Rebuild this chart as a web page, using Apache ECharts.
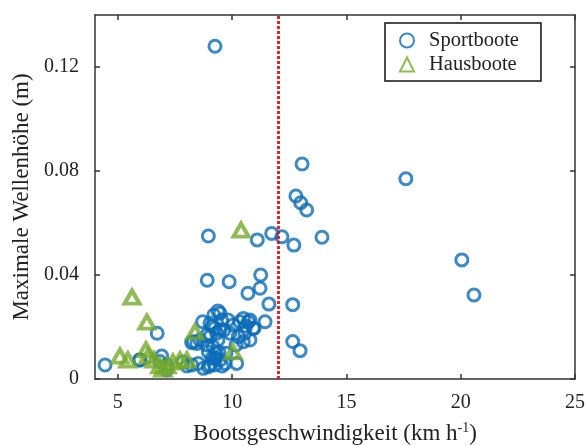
<!DOCTYPE html>
<html>
<head>
<meta charset="utf-8">
<script src="https://cdn.jsdelivr.net/npm/echarts@6/dist/echarts.min.js"></script>
<style>
  html, body { margin: 0; padding: 0; background: #fff; }
  #chart { width: 585px; height: 446px; }
</style>
</head>
<body>
<div id="chart"></div>
<script>
// speed (km/h), max wave height (m)
const sportboote = [
  [9.25, 0.128], [13.06, 0.0827], [17.6, 0.077], [20.05, 0.0458], [20.58, 0.0323],
  [12.79, 0.0704], [13.0, 0.0678], [13.26, 0.065], [13.93, 0.0545], [11.1, 0.0535],
  [11.73, 0.056], [12.18, 0.0547], [12.7, 0.0515], [11.25, 0.04], [11.22, 0.0349],
  [11.61, 0.0288], [12.65, 0.0286], [11.44, 0.022], [10.96, 0.0195], [10.69, 0.033],
  [12.65, 0.0144], [12.97, 0.0109], [8.96, 0.055], [8.91, 0.038], [9.87, 0.0374],
  [6.72, 0.0176], [4.44, 0.0054], [5.94, 0.0073], [6.92, 0.0088], [7.13, 0.0035],
  [8.71, 0.022], [9.2, 0.0246], [9.47, 0.0253], [9.54, 0.0227], [9.25, 0.0196],
  [9.47, 0.0188], [8.3, 0.0143], [8.59, 0.015], [9.03, 0.0163], [9.17, 0.0124],
  [8.96, 0.0105], [9.25, 0.008], [9.03, 0.0054], [8.74, 0.0041], [8.23, 0.0054],
  [8.52, 0.006], [9.47, 0.0073], [9.73, 0.0099], [10.2, 0.006], [9.9, 0.0176],
  [10.05, 0.0208], [10.49, 0.0233], [10.71, 0.022], [10.56, 0.0176], [10.27, 0.0163],
  [10.49, 0.0143], [10.92, 0.0195], [9.03, 0.0214], [9.32, 0.0176], [8.89, 0.0169],
  [8.23, 0.014], [8.45, 0.0137], [8.89, 0.0131], [9.29, 0.0099], [9.25, 0.0054],
  [8.96, 0.0047], [9.69, 0.006], [6.84, 0.0067], [7.14, 0.0054], [5.97, 0.0073],
  [9.64, 0.0188], [9.82, 0.0227], [10.34, 0.022], [10.6, 0.0204], [10.17, 0.0131],
  [9.42, 0.0104], [9.12, 0.008], [9.56, 0.005], [8.02, 0.005], [7.85, 0.0065],
  [9.38, 0.015], [9.12, 0.0204], [9.38, 0.0262], [10.78, 0.0227], [10.78, 0.015]
];
const hausboote = [
  [5.62, 0.0315], [6.27, 0.0219], [5.09, 0.0088], [5.44, 0.0073], [6.23, 0.0112],
  [6.32, 0.0088], [6.58, 0.0073], [6.84, 0.005], [6.97, 0.0038], [7.15, 0.005],
  [7.41, 0.0065], [7.72, 0.0073], [8.02, 0.0073], [8.37, 0.0181], [10.04, 0.0104],
  [10.39, 0.0573]
];
const xTicks = [5, 10, 15, 20, 25];
const yTicks = [0, 0.04, 0.08, 0.12];
const grenze = 12;

const blue = '#0a6bb8';
const green = '#74aa2c';
const axisColor = '#333';
const font = 'Liberation Serif';

let chart = echarts.init(document.getElementById('chart'));

function axisBase(show) {
  return {
    axisLine: { show: true, onZero: false, lineStyle: { color: axisColor, width: 1.5 } },
    axisTick: { show: true, inside: true, length: 5, lineStyle: { color: axisColor, width: 1.5 } },
    splitLine: { show: false },
    axisLabel: { show: show, color: '#222', fontSize: 20, fontFamily: font, margin: 14 }
  };
}

let xBottom = axisBase(true);
xBottom.axisTick.customValues = xTicks;
xBottom.axisLabel.customValues = xTicks;
let xTop = axisBase(false);
xTop.axisTick.customValues = xTicks;
let yLeft = axisBase(true);
yLeft.axisTick.customValues = yTicks;
yLeft.axisLabel.customValues = yTicks;
yLeft.axisLabel.margin = 16;
yLeft.axisLabel.formatter = function (v) { return v === 0 ? '0' : v.toFixed(2); };
let yRight = axisBase(false);
yRight.axisTick.customValues = yTicks;

let option = {
  backgroundColor: '#fff',
  animation: false,
  grid: { left: 95, right: 10, top: 15, bottom: 67, outerBoundsMode: 'none', containLabel: false },
  legend: {
    left: 385,
    top: 23,
    orient: 'vertical',
    padding: [7, 22, 6, 14],
    itemGap: 3,
    itemWidth: 14,
    itemHeight: 14,
    borderColor: '#111',
    borderWidth: 1.5,
    borderRadius: 0,
    backgroundColor: '#fff',
    textStyle: { fontSize: 20.5, fontFamily: font, color: '#222', padding: [0, 0, 0, 10] },
    data: ['Sportboote', 'Hausboote']
  },
  xAxis: [
    Object.assign({
      type: 'value', position: 'bottom', min: 4, max: 25,
      name: 'Bootsgeschwindigkeit (km h{sup|-1})',
      nameLocation: 'middle', nameGap: 42,
      nameTextStyle: {
        fontSize: 23, fontFamily: font, color: '#222',
        rich: { sup: { fontSize: 14, fontFamily: font, color: '#222', verticalAlign: 'top', padding: [0, 0, 12, 0] } }
      }
    }, xBottom),
    Object.assign({ type: 'value', position: 'top', min: 4, max: 25 }, xTop)
  ],
  yAxis: [
    Object.assign({
      type: 'value', position: 'left', min: 0, max: 0.14,
      name: 'Maximale Wellenhöhe (m)',
      nameLocation: 'middle', nameGap: 61,
      nameTextStyle: { fontSize: 23, fontFamily: font, color: '#222' }
    }, yLeft),
    Object.assign({ type: 'value', position: 'right', min: 0, max: 0.14 }, yRight)
  ],
  series: [
    {
      name: 'Sportboote',
      type: 'scatter',
      symbol: 'circle',
      symbolSize: 12,
      itemStyle: { color: 'rgba(255,255,255,0)', borderColor: blue, borderWidth: 3 },
      data: sportboote,
      markLine: {
        silent: true,
        symbol: 'none',
        label: { show: false },
        lineStyle: { color: '#e8141b', width: 2.8, type: [3, 2] },
        data: [{ xAxis: grenze }]
      }
    },
    {
      name: 'Hausboote',
      type: 'scatter',
      symbol: 'triangle',
      symbolSize: [15, 13],
      itemStyle: { color: 'rgba(255,255,255,0)', borderColor: green, borderWidth: 4 },
      data: hausboote
    }
  ]
};
chart.setOption(option);
</script>
</body>
</html>
